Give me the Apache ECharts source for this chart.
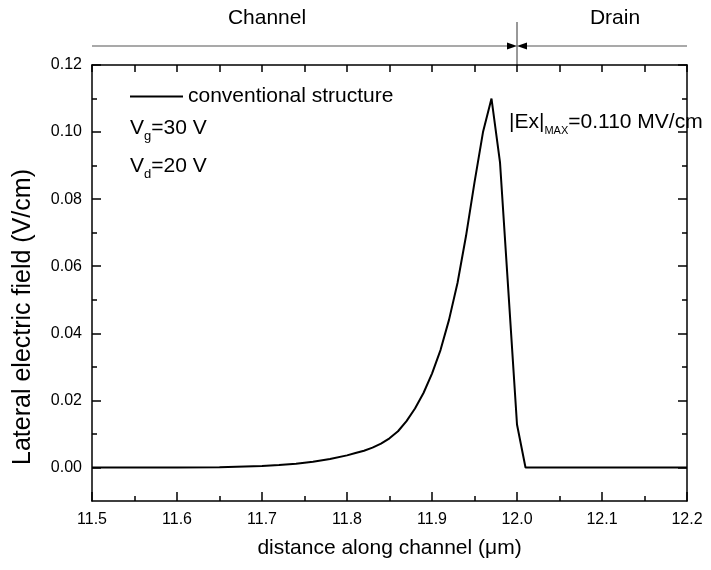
<!DOCTYPE html>
<html>
<head>
<meta charset="utf-8">
<script src="https://cdn.jsdelivr.net/npm/echarts@6/dist/echarts.min.js"></script>
<style>
  html, body { margin: 0; padding: 0; background: #fff; }
  #chart { width: 711px; height: 570px; }
</style>
</head>
<body>
<div id="chart"></div>
<script>
// Lateral electric field along the channel (conventional structure)
const distance = [11.5, 11.6, 11.65, 11.7, 11.72, 11.74, 11.76, 11.78, 11.8, 11.81, 11.82, 11.83, 11.84, 11.85,
                  11.86, 11.87, 11.88, 11.89, 11.9, 11.91, 11.92, 11.93, 11.94, 11.95, 11.96,
                  11.97, 11.98, 11.99, 12.0, 12.01, 12.2];
const lateralField = [0, 0, 0.0001, 0.0004, 0.0007, 0.0011, 0.0017, 0.0025, 0.0036, 0.0043, 0.0050, 0.0059, 0.0071, 0.0087,
                      0.0108, 0.0138, 0.0176, 0.0222, 0.028, 0.035, 0.044, 0.055, 0.069, 0.085, 0.100,
                      0.110, 0.091, 0.052, 0.0128, 0, 0];

const xRange = [11.5, 12.2];
const yRange = [-0.01, 0.12];
const yMajorTicks = [0, 0.02, 0.04, 0.06, 0.08, 0.10, 0.12];
const yMinorTicks = [0.01, 0.03, 0.05, 0.07, 0.09, 0.11];

const seriesName = 'conventional structure';
const regionNames = ['Channel', 'Drain'];
const junctionX = 12.0;
const gateVoltage = 30;
const drainVoltage = 20;

const FONT = '"Liberation Sans", Arial, Helvetica, sans-serif';
const axisLineStyle = { color: '#000', width: 1.5 };

const chart = echarts.init(document.getElementById('chart'), null, { renderer: 'canvas' });

const yBase = {
  type: 'value', min: yRange[0], max: yRange[1], interval: 0.01,
  splitLine: { show: false },
  axisLine: { show: true, onZero: false, lineStyle: axisLineStyle }
};

chart.setOption({
  animation: false,
  backgroundColor: '#fff',
  textStyle: { fontFamily: FONT, color: '#000' },
  grid: { left: 92, right: 24, top: 65, bottom: 69, containLabel: false },
  legend: {
    show: true, left: 130, top: 86, padding: 0,
    itemWidth: 53, itemHeight: 2,
    textStyle: { fontSize: 21, color: '#000', fontFamily: FONT },
    data: [{ name: seriesName, icon: 'rect' }]
  },
  xAxis: [
    {
      type: 'value', position: 'bottom', min: xRange[0], max: xRange[1], interval: 0.1,
      axisLine: { show: true, onZero: false, lineStyle: axisLineStyle },
      axisTick: { inside: true, length: 9, lineStyle: axisLineStyle },
      minorTick: { show: true, splitNumber: 2, length: 5, lineStyle: axisLineStyle },
      axisLabel: { formatter: v => v.toFixed(1), fontSize: 16, margin: 11, color: '#000', fontFamily: FONT },
      splitLine: { show: false },
      name: 'distance along channel (μm)', nameLocation: 'middle', nameGap: 37,
      nameTextStyle: { fontSize: 21, color: '#000', fontFamily: FONT }
    },
    {
      type: 'value', position: 'top', min: xRange[0], max: xRange[1], interval: 0.05,
      axisLine: { show: true, onZero: false, lineStyle: axisLineStyle },
      axisTick: { inside: true, length: 7, lineStyle: axisLineStyle },
      axisLabel: { show: false },
      splitLine: { show: false }
    }
  ],
  yAxis: [
    Object.assign({}, yBase, {
      position: 'left',
      axisTick: { inside: true, length: 9, customValues: yMajorTicks, lineStyle: axisLineStyle },
      axisLabel: { customValues: yMajorTicks, formatter: v => v.toFixed(2), fontSize: 16, margin: 10, color: '#000', fontFamily: FONT }
    }),
    Object.assign({}, yBase, {
      position: 'left', axisLine: { show: false },
      axisTick: { inside: true, length: 5, customValues: yMinorTicks, lineStyle: axisLineStyle },
      axisLabel: { show: false }
    }),
    Object.assign({}, yBase, {
      position: 'right',
      axisTick: { inside: true, length: 9, customValues: yMajorTicks, lineStyle: axisLineStyle },
      axisLabel: { show: false }
    }),
    Object.assign({}, yBase, {
      position: 'right', axisLine: { show: false },
      axisTick: { inside: true, length: 5, customValues: yMinorTicks, lineStyle: axisLineStyle },
      axisLabel: { show: false }
    })
  ],
  series: [{
    name: seriesName,
    type: 'line',
    xAxisIndex: 0, yAxisIndex: 0,
    data: distance.map((d, i) => [d, lateralField[i]]),
    symbol: 'none', smooth: false,
    lineStyle: { color: '#000', width: 2 },
    itemStyle: { color: '#000' }
  }]
});

// Annotations placed with the axis scales
const jx = chart.convertToPixel({ xAxisIndex: 0 }, junctionX);
const xl = chart.convertToPixel({ xAxisIndex: 0 }, xRange[0]);
const xr = chart.convertToPixel({ xAxisIndex: 0 }, xRange[1]);
const yTop = chart.convertToPixel({ yAxisIndex: 0 }, yRange[1]);
const arrowY = 46;
const peakValue = Math.max(...lateralField);

const subRich = {
  m: { fontSize: 21, lineHeight: 30, fontFamily: FONT, color: '#000' },
  s: { fontSize: 13, lineHeight: 30, padding: [17, 0, 0, 0], fontFamily: FONT, color: '#000' },
  t: { fontSize: 11, lineHeight: 30, padding: [17, 0, 0, 0], fontFamily: FONT, color: '#000' }
};

chart.setOption({
  graphic: [
    { type: 'line', shape: { x1: jx, y1: 22, x2: jx, y2: yTop }, style: { stroke: '#333', lineWidth: 1 } },
    { type: 'line', shape: { x1: xl, y1: arrowY, x2: jx - 8, y2: arrowY }, style: { stroke: '#555', lineWidth: 1.2 } },
    { type: 'line', shape: { x1: jx + 8, y1: arrowY, x2: xr, y2: arrowY }, style: { stroke: '#555', lineWidth: 1.2 } },
    { type: 'polygon', shape: { points: [[jx - 10, arrowY - 3.5], [jx, arrowY], [jx - 10, arrowY + 3.5]] }, style: { fill: '#000' } },
    { type: 'polygon', shape: { points: [[jx + 10, arrowY - 3.5], [jx, arrowY], [jx + 10, arrowY + 3.5]] }, style: { fill: '#000' } },
    { type: 'text', x: 267, y: 18, style: { text: regionNames[0], fontSize: 21, fontFamily: FONT, fill: '#000', align: 'center', verticalAlign: 'middle' } },
    { type: 'text', x: 615, y: 18, style: { text: regionNames[1], fontSize: 21, fontFamily: FONT, fill: '#000', align: 'center', verticalAlign: 'middle' } },
    { type: 'text', x: 23, y: 317, rotation: Math.PI / 2,
      style: { text: 'Lateral electric field (V/cm)', fontSize: 25, fontFamily: FONT, fill: '#000', align: 'center', verticalAlign: 'middle' } },
    { type: 'text', x: 130, y: 113,
      style: { text: '{m|V}{s|g}{m|=' + gateVoltage + ' V}', rich: subRich, align: 'left', verticalAlign: 'top' } },
    { type: 'text', x: 130, y: 151,
      style: { text: '{m|V}{s|d}{m|=' + drainVoltage + ' V}', rich: subRich, align: 'left', verticalAlign: 'top' } },
    { type: 'text', x: 509, y: 107,
      style: { text: '{m||Ex|}{t|MAX}{m|=' + peakValue.toFixed(3) + ' MV/cm}', rich: subRich, align: 'left', verticalAlign: 'top' } }
  ]
});
</script>
</body>
</html>
